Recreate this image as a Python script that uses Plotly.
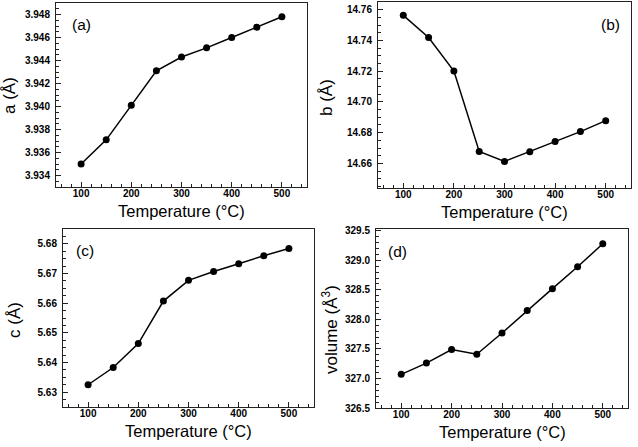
import plotly.graph_objects as go

temperature = [100, 150, 200, 250, 300, 350, 400, 450, 500]
a_values = [3.9350, 3.9371, 3.9401, 3.9431, 3.9443, 3.9451, 3.9460, 3.9469, 3.9478]
b_values = [14.7563, 14.7419, 14.7201, 14.6678, 14.6613, 14.6676, 14.6742, 14.6807, 14.6878]
c_values = [5.6325, 5.6383, 5.6464, 5.6607, 5.6677, 5.6707, 5.6733, 5.6760, 5.6784]
v_values = [327.07, 327.26, 327.49, 327.41, 327.77, 328.15, 328.52, 328.89, 329.28]

panel_labels = ["(a)", "(b)", "(c)", "(d)"]
y_titles = ["a (Å)", "b (Å)", "c (Å)", "volume (Å<sup>3</sup>)"]
x_title = "Temperature (°C)"

W, H = 638, 447
FONT = "Liberation Sans, Arial, Helvetica, sans-serif"

# pixel boxes of plot areas: (left, right, top, bottom)
boxes = [(56, 307, 3, 187), (378, 631, 2, 188), (63, 314, 229, 407), (376, 628, 229, 408)]
yranges = [[3.933, 3.949], [14.644, 14.765], [5.625, 5.685], [326.5, 329.53]]
ydticks = [0.002, 0.02, 0.01, 0.5]
yminor = [0.0005, 0.005, 0.0025, 0.1]
yfmt = [".3f", ".2f", ".2f", ".1f"]
series = [a_values, b_values, c_values, v_values]
ytitle_pos = [(9, 96), (327, 97), (14, 320), (330, 330)]
label_pos = [(81, 25), (610, 25), (85, 250), (397, 251)]

fig = go.Figure()
for i in range(4):
    l, r, t, b = boxes[i]
    xa = "xaxis" if i == 0 else f"xaxis{i+1}"
    ya = "yaxis" if i == 0 else f"yaxis{i+1}"
    xref = "x" if i == 0 else f"x{i+1}"
    yref = "y" if i == 0 else f"y{i+1}"
    fig.add_trace(go.Scatter(
        x=temperature, y=series[i], mode="lines+markers",
        line=dict(color="black", width=1.5),
        marker=dict(color="black", size=7),
        xaxis=xref, yaxis=yref, showlegend=False))
    common = dict(showline=True, mirror=True, linecolor="#222", linewidth=1,
                  ticks="inside", tickcolor="#222", ticklen=5, tickwidth=1,
                  showgrid=False, zeroline=False, automargin=False,
                  tickfont=dict(family=FONT, size=10, color="black", weight="bold"))
    fig.update_layout({
        xa: dict(domain=[l / W, r / W], anchor=yref, range=[50, 550],
                 tickvals=[100, 200, 300, 400, 500], ticklabelstandoff=-3,
                 minor=dict(dtick=20, tick0=0, ticks="inside", ticklen=3, tickcolor="#222", tickwidth=1),
                 **common),
        ya: dict(domain=[1 - b / H, 1 - t / H], anchor=xref, range=yranges[i],
                 dtick=ydticks[i], tick0=0, tickformat=yfmt[i], ticklabelstandoff=3,
                 minor=dict(dtick=yminor[i], tick0=0, ticks="inside", ticklen=3, tickcolor="#222", tickwidth=1),
                 **common),
    })
    # x axis title
    fig.add_annotation(text=x_title, xref="paper", yref="paper",
                       x=((l + r) / 2) / W, y=1 - (b + 24) / H,
                       xanchor="center", yanchor="middle", showarrow=False,
                       font=dict(family=FONT, size=16.5, color="black"))
    # y axis title
    tx, ty = ytitle_pos[i]
    fig.add_annotation(text=y_titles[i], xref="paper", yref="paper",
                       x=tx / W, y=1 - ty / H, textangle=-90,
                       xanchor="center", yanchor="middle", showarrow=False,
                       font=dict(family=FONT, size=17, color="black"))
    # panel label
    px, py = label_pos[i]
    fig.add_annotation(text=panel_labels[i], xref="paper", yref="paper",
                       x=px / W, y=1 - py / H, xanchor="center", yanchor="middle",
                       showarrow=False, font=dict(family=FONT, size=15.5, color="black"))

fig.update_layout(width=W, height=H, margin=dict(l=0, r=0, t=0, b=0),
                  paper_bgcolor="white", plot_bgcolor="white")
fig.write_html("out.html", config={"displayModeBar": False},
               post_script="document.body.style.margin='0';")
